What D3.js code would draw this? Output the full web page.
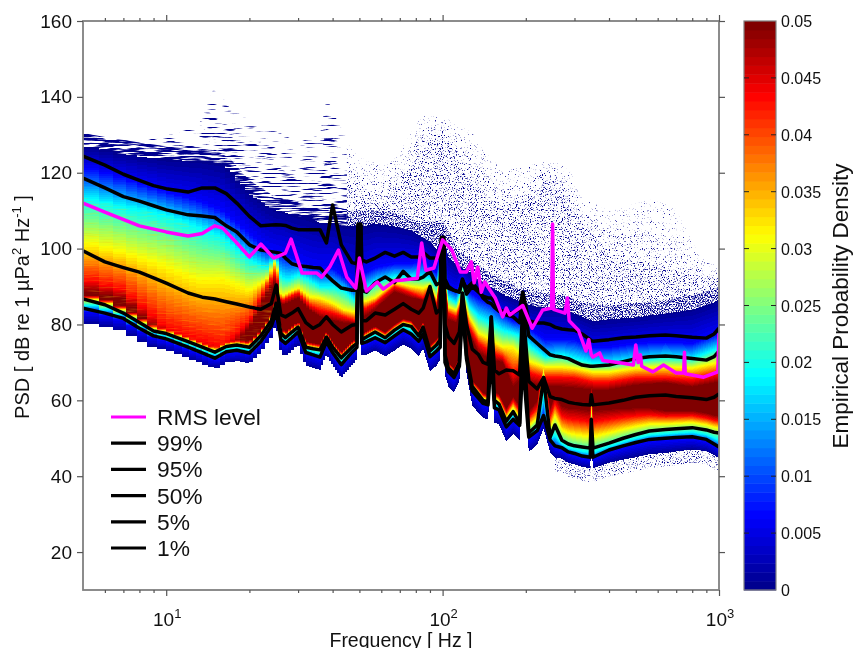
<!DOCTYPE html>
<html><head><meta charset="utf-8">
<script src="https://cdn.jsdelivr.net/npm/d3@7/dist/d3.min.js"></script>
<style>
html,body{margin:0;padding:0;background:#fff;overflow:hidden;width:854px;height:648px}
svg,canvas{position:absolute;left:0;top:0}
text{font-family:"Liberation Sans",Arial,sans-serif;fill:#111}
</style></head><body>
<svg id="under" width="854" height="648"></svg>
<canvas id="heat" width="854" height="648"></canvas>
<svg id="over" width="854" height="648"></svg>
<script>
// ---- percentile curves (dB) on shared frequency nodes
const freqs=[5,6,7,8,9,10,12,13.5,15,16.5,
18,20,22,24,25,26,27,28.5,30,32,
34,36,38,40,43,47,49,49.4,50.6,51,53,
57,62,67,72,77,82,85,90,95,98,
99,101,102,105,110,115,118,122,128,135,140,
146,150,154,160,170,180,190,195,205,220,
232,245,255,270,285,300,320,342,345,350,
400,450,500,560,640,700,800,900,960,1000];
const p99=[124.4,122,119.6,118,116.6,115.8,114.9,116,116,114.5,
112,108.5,106,106.2,106.3,106.2,106.1,105.4,105,105,
105,105,101.5,111.5,101,96.3,96,106.5,106.5,97,96.5,
97.5,99,98,99,97.8,97.8,99,97.5,97.5,97.5,
103,103,92,90,89,88.5,92,88,90,88.5,87.5,
87,87,86,84,83,83,84,88.5,81,80.4,
80.4,80,79.3,78.8,78.6,78.5,77.5,76,75.7,75.6,
76,76.5,76.7,77,77.2,77,76.6,76.4,77.5,79];
const p95=[118.6,116,113.7,112.5,111.3,110.2,108.9,108.6,108.2,106,
104.4,101,99.6,99.2,99,98.7,97.5,96,95.5,95.3,
95,94.9,93,91.5,89.6,89,89,106,106,89,88.5,
91,92.5,91,94,92,92,92.5,94,90.5,91,
102.5,102.5,90,89.6,89,88.6,91.7,89.5,91,89,87,
85.8,85.5,84.5,83.5,82.5,82,80.5,88,77,75,
73.5,72,71.7,71.4,71,70.2,69.3,69,69,69,
69.3,70.2,71,71.5,71.7,71.5,71,70.6,71.5,73];
const p50=[99.4,96.5,95,93.8,92.3,90.9,88.3,87.2,86.7,86,
85.4,84.6,84,85.5,90.4,82.5,82,83,84.2,80.5,
79,80,82,80,78,79.8,80,104,104,81,81,
83,82.5,84,85.5,84,83,84.3,90,83,84,
102,102,80,76.7,75,78,88.3,80,73.5,72,70,
69.5,82,68,67,68,67.8,66.7,85,65,63,
66,61,60.5,60.2,59.5,59.2,58.9,58.8,61.5,58.8,
59.3,60,60.8,61.2,61.4,61,60.7,60.2,60.8,61.7];
const p5=[86.7,85.2,83,80.5,78.3,77.6,75.5,74,72.7,74.2,
74.6,74,77,81,85.6,77.7,76.5,78,79.3,74,
73.6,73.3,76.7,74,71.2,74,75,100,100,76,76.7,
78,76.5,78.5,80,79.5,77,79.3,73,74.6,76,
100,100,72,68.5,67,70,88,72,63.7,61.5,60,
59.5,82,60,59,54.5,57,54,80,51.4,53.5,
66,50.3,53.5,49.5,48.5,48,47.7,47.4,55,47.4,
48.7,50,51,51.9,52.3,52.5,52.8,52.2,51.6,51.4];
const p1=[84.3,83,81.6,79,77,76.2,74,72.5,71.1,72.8,
73.2,72.5,75.5,79.5,83.3,76,75,76.5,78,72.6,
72,71.4,75.4,72.6,69.4,72.7,74,97,97,75,75.4,
76.5,75.2,77,78.6,77.5,75.6,77.5,71.5,73,74,
95,95,70,67.5,66,69,84,71,62.5,60.5,59.2,
58.8,72,58,57.5,53,55,53.4,70,50.3,52,
56,49.5,48,47.5,46.4,46,45.3,45,52,45,
46.9,48,48.9,49.7,50,50.2,50.4,49.7,48.5,47.7];
// ---- RMS level
const rmsF=[5,6,8,10,12,13.5,15,16,18,20,22,24.5,27,28.3,31,35,36.5,39,42,45,48.5,50,53,58,61,67,72,81,84,87,93,100,108,116,122,127,130,134,138,142,155,165,170,175,195,211,230,248,250,252,277,283,287,310,330,338,345,350,370,380,450,490,500,510,520,525,577,630,700,745,750,755,880,990,1000];
const rmsV=[112,109.6,106,104.4,103.3,104,106,105.4,101.5,97.8,101.2,97.5,98.8,102.5,93.6,93.6,92.5,95.1,99.6,92.5,89.6,97.5,88.8,91.2,89.3,91.5,91.7,92.2,101.5,94.3,94.9,102.3,99.6,93.8,93.8,96.5,91,95.1,88.5,91.2,87,82,84.3,82.5,85,79,83.8,84.3,106.5,84,83,87,81,78.5,73,76,72,71.4,72.5,70.5,69.8,69.3,74.6,70,72,69,67.5,69.3,67.2,67.2,72.7,67,66.1,67.5,77.7];
// ---- density contours (dB at which each jet anchor is reached, upper flank)
const contourF=[5,7,10,13,16,20,23,25,26,27.5,30,33,36,40,44,48,50,52,57,67,77,85,90,95,100,105,112,118,125,135,150,165,180,195,210,235,270,300,350,400,500,640,800,1000];
const topEdge=[127,125,123.5,123.2,122.4,114.5,111.5,110,110,109.5,108.5,108,107,107,106,106,106.5,106,106.7,106,105,103,102,100,104,97.8,96,95,94,92,90,88,87,86,85,84.6,84.6,83,81,81.5,82,83,84,86.4];
const blueEdge=[121.5,118.6,115,112.8,110,104,100,99,98.8,98,97,95.2,94.9,94.9,92.5,89.9,106,93.6,95,96,96,97,95,93.6,101.5,90,89,92.5,88.6,87,85.6,83,81,80.4,78.5,76,76,76,74,74,75,75.4,75,77.7];
const cyanEdge=[113.6,111,108.9,105.7,103,97,95,97.8,92.5,91.7,93,91.7,89.9,89.9,89,86.4,95,89,91,92.5,92.5,92.5,92,90,99,87,85.6,90,84.6,82,80.4,78.5,77.7,76.7,74,71.4,72,71,69.8,69.8,70.6,71.4,71,73.8];
const yellowEdge=[101.5,99,95.2,91.7,92,89,91.7,97,87.3,88.3,89.6,87.3,87,85.6,83.8,83.3,92.5,86,87,91,90,89.6,90.4,87,97.8,84.6,83.8,88,82,77.7,76,74,74,71.4,70,68.8,68.8,68.5,67.5,67.5,68.5,68.8,68.5,70];
const redEdge=[92,89,79,76,74,81,90,93.6,86,87,88.3,85,83.8,83,82,81,91,84,85.6,90,88.3,87,89,85.6,97,83,82,86.4,79.3,75,72.5,71.4,67,68.8,67,66,66,65.9,64.8,64.8,65.9,65.9,65.4,67];
const darkEdge=[89,86.5,76,73,71,79,88,91.7,85,85.6,87,83.8,82,81,80.4,80.4,89.9,82,84,88.6,87,86.4,88.3,83.8,96,81.2,80.4,85.6,77.7,72.5,70.6,70,63.5,66,64.5,63.5,63.5,63.2,62.7,62.7,64,64.6,63.5,64.8];
const lowerSpread=[1.5,1.5,1.5,1.5,1.5,1.5,1.5,1.5,1.5,1.5,1.5,1.5,1.5,1.5,1.5,1.5,1.5,1.5,1.5,1.5,1.5,1.5,1.5,1.5,1.5,1.5,1.5,1.5,1.5,2,2,3,4,5,6,7,9,10,10,9,7,5,4.5,4.5];
const lowerOff=[4,3.5,3,3,3,3,3,3,3.5,3.5,3.5,3.5,3.5,3.5,3.5,3.5,3,3.5,3.5,4,4,4,4,4,3,4,4,4,4,4,4,4,4,4,4,3.5,3,3,3,3.5,4,4,3.5,3];
// ---- scattered outliers above the dense body
const sparseF=[5,6,8,10,13,15,17,20,25,30,36,38,42,50,60,68,84,100,115,127,140,165,205,245,285,320,410,560,690,850,1000];
const sparseOuter=[132,130,128,130,132,143,137,134,131,128,130,140,133,124,122,124,135,135,132,131,126,120.7,122,123,121.5,113,110,113,111,98,95];
const sparseInner=[128.6,127,126,125,125,130,128,125,122,118,118,124,120,114,112,116,126,132,122,117,114.7,111,113.6,119,113.6,106.7,97.8,96,94.4,91.7,92.5];
// ---- labels
const yTicks=[20,40,60,80,100,120,140,160];
const xMajor=[10,100,1000];
const xMinor=[6,7,8,9,20,30,40,50,60,70,80,90,200,300,400,500,600,700,800,900];
const cbTicks=[0,0.005,0.01,0.015,0.02,0.025,0.03,0.035,0.04,0.045,0.05];
const cbLabels=["0","0.005","0.01","0.015","0.02","0.025","0.03","0.035","0.04","0.045","0.05"];
const legendLabels=["RMS level","99%","95%","50%","5%","1%"];
const legendColors=["#ff00ff","#000","#000","#000","#000","#000"];

const L=83,R=719,T=21,B=590;
const x=d3.scaleLog().domain([5,1000]).range([L,R]);
const y=d3.scaleLinear().domain([10,160]).range([B,T]);
const jet=d3.scaleLinear().domain([0,.00625,.01875,.03125,.04375,.05])
  .range(["#00008f","#0000ff","#00ffff","#ffff00","#ff0000","#800000"]).clamp(true);
const quant=d=>jet(Math.round(d/.05*63)/63*.05);
const along=(fs,vs)=>d3.scaleLog().domain(fs).range(vs);
const sTop=along(contourF,topEdge),sBlue=along(contourF,blueEdge),sCyan=along(contourF,cyanEdge),
 sYel=along(contourF,yellowEdge),sRed=along(contourF,redEdge),sDark=along(contourF,darkEdge),
 sSpread=along(contourF,lowerSpread),sOff=along(contourF,lowerOff),
 sP5=along(freqs,p5),sP1=along(freqs,p1);

// ---- scattered outliers (SVG turbulence texture clipped to envelope areas)
const under=d3.select("#under"),defs=under.append("defs");
function speckle(id,base,k,cut){
  const f=defs.append("filter").attr("id",id).attr("x",0).attr("y",0).attr("width",1).attr("height",1)
    .attr("color-interpolation-filters","sRGB");
  f.append("feTurbulence").attr("type","fractalNoise").attr("baseFrequency",base).attr("numOctaves",2).attr("seed",7).attr("result","n");
  f.append("feColorMatrix").attr("in","n").attr("type","matrix")
    .attr("values",`0 0 0 0 0  0 0 0 0 0  0 0 0 0 .56  ${k} 0 0 0 ${-k*cut}`).attr("result","m");
  f.append("feComposite").attr("in","m").attr("in2","SourceAlpha").attr("operator","in");
}
speckle("fine1",0.85,6,.65);speckle("fine2",0.85,6,.605);speckle("fine3",0.85,6,.56);speckle("fine4",0.85,6,.44);
speckle("low1","0.05 0.6",8,.64);speckle("low2","0.05 0.6",8,.6);speckle("low3","0.05 0.6",8,.55);speckle("low4","0.05 0.6",8,.42);
const split=45;
defs.append("clipPath").attr("id","cLow").append("rect").attr("x",L).attr("y",T).attr("width",x(split)-L).attr("height",B-T);
defs.append("clipPath").attr("id","cHigh").append("rect").attr("x",x(split)).attr("y",T).attr("width",R-x(split)).attr("height",B-T);
const sBase=f=>y(sTop(f)-3);
const envArea=vals=>d3.area().x(i=>x(sparseF[i])).y0(i=>sBase(sparseF[i])).y1(i=>y(vals[i])).curve(d3.curveLinear)(d3.range(sparseF.length));
const layer=(clip,fil,vals)=>under.append("g").attr("clip-path",`url(#${clip})`)
  .append("g").attr("filter",`url(#${fil})`).append("path").attr("d",envArea(vals)).attr("fill","#000");
const sparseMid=sparseOuter.map((v,i)=>(v+sparseInner[i])/2);
const nearTop=sparseF.map(f=>sTop(f)+3.5);
layer("cHigh","fine1",sparseOuter);layer("cHigh","fine2",sparseMid);layer("cHigh","fine3",sparseInner);layer("cHigh","fine4",nearTop);
layer("cLow","low1",sparseOuter);layer("cLow","low2",sparseMid);layer("cLow","low3",sparseInner);layer("cLow","low4",nearTop);
// fringe under the dense body at high frequency
const fringe=freqs.map((f,i)=>i).filter(i=>freqs[i]>=250);
under.append("g").attr("clip-path","url(#cHigh)").append("g").attr("filter","url(#fine3)").append("path")
  .attr("d",d3.area().x(i=>x(freqs[i])).y0(i=>y(p1[i]-sOff(freqs[i])+1)).y1(i=>y(p1[i]-sOff(freqs[i])-3.5))(fringe));

// ---- dense density body, drawn column by column
const ctx=document.getElementById("heat").getContext("2d");
let px=L;
while(px<R){
  const f=x.invert(px);
  const w=Math.min(R-px,Math.max(1,Math.round(x(f+0.71)-px)));
  const fc=x.invert(px+w/2);
  const a1=sP1(fc),a5=sP5(fc),s=sSpread(fc),o=sOff(fc);
  const upper=d3.scaleLinear().domain([sTop(fc),sBlue(fc),sCyan(fc),sYel(fc),sRed(fc),sDark(fc)]).range(jet.domain()).clamp(true);
  const lower=d3.scaleLinear().domain([a1-o,a1-.5,(a1+a5)/2,a5+.3*s,a5+.7*s,a5+s]).range(jet.domain()).clamp(true);
  const topDb=sTop(fc),botDb=a1-o;
  for(let py=Math.ceil(y(topDb));py<Math.floor(y(botDb))&&py<B;py++){
    const db=y.invert(py+.5);
    ctx.fillStyle=quant(Math.min(upper(db),lower(db)));
    ctx.fillRect(px,py,w,1);
  }
  px+=w;
}

// ---- overlay: lines, axes, legend
const over=d3.select("#over");
const odefs=over.append("defs");
odefs.append("clipPath").attr("id","plot").append("rect").attr("x",L).attr("y",T).attr("width",R-L).attr("height",B-T);
// faint horizontal banding over the low-frequency bins
const band=odefs.append("filter").attr("id","banding").attr("x",0).attr("y",0).attr("width",1).attr("height",1).attr("color-interpolation-filters","sRGB");
band.append("feTurbulence").attr("type","fractalNoise").attr("baseFrequency","0.05 0.55").attr("numOctaves",2).attr("seed",11).attr("result","n");
band.append("feColorMatrix").attr("in","n").attr("type","matrix").attr("values","0 0 0 0 1  0 0 0 0 .8  0 0 0 0 0  .9 0 0 0 -.47").attr("result","m");
band.append("feComposite").attr("in","m").attr("in2","SourceAlpha").attr("operator","in");
const lowIdx=freqs.map((f,i)=>i).filter(i=>freqs[i]<=24);
over.append("g").attr("filter","url(#banding)").append("path")
  .attr("d",d3.area().x(i=>x(freqs[i])).y0(i=>y(p5[i]+1)).y1(i=>y(sCyan(freqs[i])))(lowIdx));

const line=d3.line().x(d=>x(d[0])).y(d=>y(d[1]));
const g=over.append("g").attr("clip-path","url(#plot)");
[p99,p95,p50,p5,p1].forEach(s=>g.append("path").attr("d",line(freqs.map((f,i)=>[f,s[i]])))
  .attr("fill","none").attr("stroke","#000").attr("stroke-width",3.5).attr("stroke-linejoin","round"));
g.append("path").attr("d",line(rmsF.map((f,i)=>[f,rmsV[i]]))).attr("fill","none").attr("stroke","#ff00ff").attr("stroke-width",3.5).attr("stroke-linejoin","round");

const axisColor="#808080",tickColor="#555";
function style(sel){sel.select(".domain").remove();sel.selectAll(".tick line").attr("stroke",tickColor).attr("stroke-width",1.2);sel.selectAll("text").attr("font-size",19).attr("fill","#111").attr("font-family",'"Liberation Sans",Arial,sans-serif');}
over.append("rect").attr("x",L).attr("y",T).attr("width",R-L).attr("height",B-T).attr("fill","none").attr("stroke",axisColor).attr("stroke-width",1.8);
over.append("g").attr("transform",`translate(${L},0)`).call(d3.axisLeft(y).tickValues(yTicks).tickSize(6).tickPadding(5).tickFormat(d3.format("d"))).call(style);
over.append("g").attr("transform",`translate(${R},0)`).call(d3.axisRight(y).tickValues(yTicks).tickSize(6).tickFormat("")).call(style);
over.append("g").attr("transform",`translate(0,${B})`).call(d3.axisBottom(x).tickValues(xMajor).tickSize(6).tickFormat("")).call(style);
over.append("g").attr("transform",`translate(0,${B})`).call(d3.axisBottom(x).tickValues(xMinor).tickSize(3).tickFormat("")).call(style);
over.append("g").attr("transform",`translate(0,${T})`).call(d3.axisTop(x).tickValues(xMajor).tickSize(6).tickFormat("")).call(style);
over.append("g").attr("transform",`translate(0,${T})`).call(d3.axisTop(x).tickValues(xMinor).tickSize(3).tickFormat("")).call(style);
xMajor.forEach(v=>{
  const e=Math.round(Math.log10(v));
  const t=over.append("text").attr("x",x(v)+1).attr("y",626).attr("text-anchor","middle").attr("font-size",19);
  t.append("tspan").text("10");
  t.append("tspan").attr("dy",-8).attr("font-size",13).text(e);
});
over.append("text").attr("x",401).attr("y",647).attr("text-anchor","middle").attr("font-size",19.5).text("Frequency [ Hz ]");
const yl=over.append("text").attr("transform","translate(29,307) rotate(-90)").attr("text-anchor","middle").attr("font-size",20);
yl.append("tspan").text("PSD [ dB re 1 µPa");
yl.append("tspan").attr("dy",-8).attr("font-size",13).text("2");
yl.append("tspan").attr("dy",8).text(" Hz");
yl.append("tspan").attr("dy",-8).attr("font-size",13).text("-1");
yl.append("tspan").attr("dy",8).text(" ]");

// colour bar
const cb=d3.scaleLinear().domain([0,.05]).range([590,21]);
const cbX=744,cbW=32;
const levels=d3.range(64);
over.append("g").selectAll("rect").data(levels).join("rect")
  .attr("x",cbX).attr("width",cbW)
  .attr("y",d=>cb((d+1)/64*.05)).attr("height",d=>cb(d/64*.05)-cb((d+1)/64*.05)+.5)
  .attr("fill",d=>jet(d/63*.05));
over.append("rect").attr("x",cbX).attr("y",21).attr("width",cbW).attr("height",569).attr("fill","none").attr("stroke",axisColor).attr("stroke-width",1.2);
cbTicks.forEach((v,i)=>{
  if(i>0&&i<cbTicks.length-1){
    over.append("line").attr("x1",cbX).attr("x2",cbX+5).attr("y1",cb(v)).attr("y2",cb(v)).attr("stroke","#222");
    over.append("line").attr("x1",cbX+cbW-5).attr("x2",cbX+cbW).attr("y1",cb(v)).attr("y2",cb(v)).attr("stroke","#222");
  }
  over.append("text").attr("x",781).attr("y",cb(v)+6).attr("font-size",16).text(cbLabels[i]);
});
over.append("text").attr("transform","translate(848,306) rotate(-90)").attr("text-anchor","middle").attr("font-size",22.5).text("Empirical Probability Density");

// legend
const legendY=d3.scalePoint().domain(legendLabels).range([417,548]);
legendLabels.forEach((l,i)=>{
  over.append("line").attr("x1",111).attr("x2",146).attr("y1",legendY(l)).attr("y2",legendY(l)).attr("stroke",legendColors[i]).attr("stroke-width",3.2);
  over.append("text").attr("x",157).attr("y",legendY(l)+8).attr("font-size",22.8).text(l);
});
</script></body></html>
